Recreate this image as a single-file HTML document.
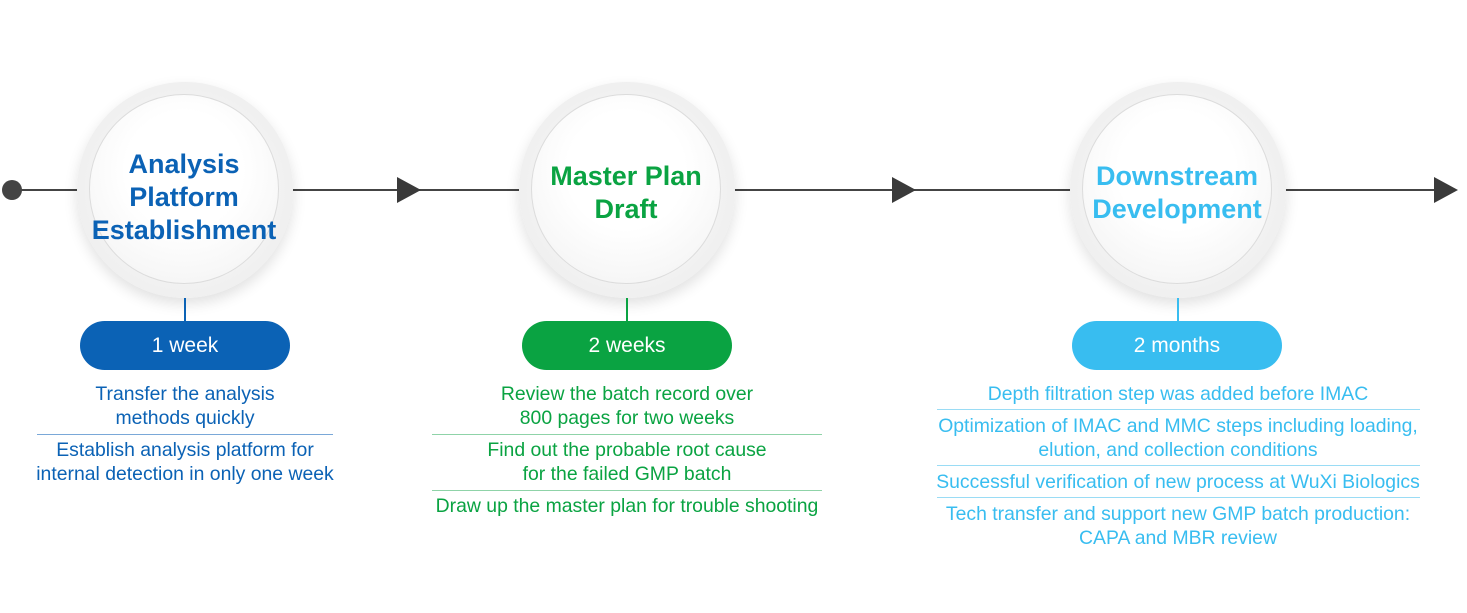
<!DOCTYPE html>
<html><head><meta charset="utf-8"><style>
body{margin:0;width:1467px;height:613px;background:#fff;position:relative;overflow:hidden;font-family:"Liberation Sans",sans-serif}
.a{position:absolute}
.line{left:12px;top:189px;width:1440px;height:2px;background:#444}
.dot{left:2px;top:180px;width:20px;height:20px;border-radius:50%;background:#444}
.arr{width:0;height:0;border-top:13px solid transparent;border-bottom:13px solid transparent;border-left:24px solid #3a3a3a;top:177px}
.c{width:216px;height:216px;border-radius:50%;background:radial-gradient(circle,#f2f2f2 60%,#e8e8e8 100%);box-shadow:0 6px 14px rgba(0,0,0,.12);top:82px}
.ci{position:absolute;left:12px;top:12px;width:190px;height:190px;box-sizing:border-box;border-radius:50%;border:1px solid #dcdcdc;background:radial-gradient(circle at 50% 40%,#fff 40%,#f0f0f0 100%);display:flex;align-items:center;justify-content:center;text-align:center;font-weight:bold;font-size:27px;line-height:33px}
.v{width:2px;top:298px;height:24px}
.pill{width:210px;height:49px;border-radius:25px;top:321px;color:#fff;font-size:21px;text-align:center;line-height:49px}
.t{text-align:center;font-size:19.4px;line-height:24px}
.sep{height:1px}
</style></head><body>
<div class="a line"></div>
<div class="a dot"></div>
<div class="a arr" style="left:397px"></div>
<div class="a arr" style="left:892px"></div>
<div class="a arr" style="left:1434px"></div>

<div class="a c" style="left:77px"><div class="ci" style="color:#0b62b5;padding-top:16px">Analysis<br>Platform<br>Establishment</div></div>
<div class="a c" style="left:519px"><div class="ci" style="color:#0aa342;padding-top:8px">Master Plan<br>Draft</div></div>
<div class="a c" style="left:1070px"><div class="ci" style="color:#38bdf0;padding-top:8px">Downstream<br>Development</div></div>

<div class="a v" style="left:184px;background:#0b62b5"></div>
<div class="a v" style="left:626px;background:#0aa342"></div>
<div class="a v" style="left:1177px;background:#38bdf0"></div>
<div class="a pill" style="left:80px;background:#0b62b5">1 week</div>
<div class="a pill" style="left:522px;background:#0aa342">2 weeks</div>
<div class="a pill" style="left:1072px;background:#38bdf0">2 months</div>

<div class="a t" style="left:10px;width:350px;top:382px;color:#0b62b5">Transfer the analysis<br>methods quickly</div>
<div class="a sep" style="left:37px;width:296px;top:434px;background:#7aa8d8"></div>
<div class="a t" style="left:10px;width:350px;top:438px;color:#0b62b5">Establish analysis platform for<br>internal detection in only one week</div>

<div class="a t" style="left:417px;width:420px;top:382px;color:#0aa342">Review the batch record over<br>800 pages for two weeks</div>
<div class="a sep" style="left:432px;width:390px;top:434px;background:#8fd3a8"></div>
<div class="a t" style="left:417px;width:420px;top:438px;color:#0aa342">Find out the probable root cause<br>for the failed GMP batch</div>
<div class="a sep" style="left:432px;width:390px;top:490px;background:#8fd3a8"></div>
<div class="a t" style="left:417px;width:420px;top:494px;color:#0aa342">Draw up the master plan for trouble shooting</div>

<div class="a t" style="left:918px;width:520px;top:382px;color:#38bdf0">Depth filtration step was added before IMAC</div>
<div class="a sep" style="left:937px;width:483px;top:409px;background:#9adcf5"></div>
<div class="a t" style="left:918px;width:520px;top:414px;color:#38bdf0">Optimization of IMAC and MMC steps including loading,<br>elution, and collection conditions</div>
<div class="a sep" style="left:937px;width:483px;top:465px;background:#9adcf5"></div>
<div class="a t" style="left:918px;width:520px;top:470px;color:#38bdf0">Successful verification of new process at WuXi Biologics</div>
<div class="a sep" style="left:937px;width:483px;top:497px;background:#9adcf5"></div>
<div class="a t" style="left:918px;width:520px;top:502px;color:#38bdf0">Tech transfer and support new GMP batch production:<br>CAPA and MBR review</div>
</body></html>
